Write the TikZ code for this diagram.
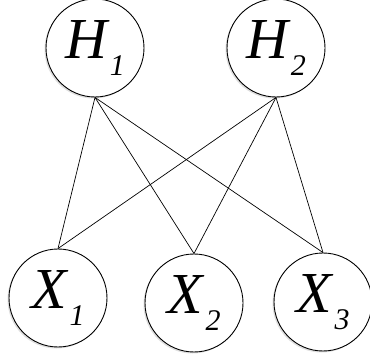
\documentclass[tikz,border=0pt]{standalone}
\usepackage{fontspec}
\setmainfont{Liberation Serif}
\usetikzlibrary{shadows}
\tikzset{
    every edge/.style={draw,line width=0.7pt}
}
\newcommand{\varlbl}[2]{\itshape #1\kern0.05em\raisebox{-0.3em}{\fontsize{30}{32}\selectfont #2}}

\begin{document}
\begin{tikzpicture}[x=1pt,y=1pt,
                    var/.style={circle,draw,line width=0.9pt,fill=white,
                                minimum size=98pt,inner sep=0pt,
                                font=\fontsize{58}{60}\selectfont,
                                drop shadow={shadow xshift=-1.5pt,shadow yshift=-1.5pt,opacity=0.25}}]
\useasboundingbox (0,0) rectangle (370,362);

% Hidden variables
\node[var] (H1) at (95,314) {\varlbl{H}{1}};
\node[var] (H2) at (276,314) {\varlbl{H}{2}};

% Observed variables
\node[var] (X1) at (58,64) {\varlbl{X}{1}};
\node[var] (X2) at (194,59) {\varlbl{X}{2}};
\node[var] (X3) at (323,60) {\varlbl{X}{3}};

% Links
\path (H1.south) edge (X1.north);
\path (H1.south) edge (X2.north);
\path (H1.south) edge (X3.north);
\path (H2.south) edge (X1.north);
\path (H2.south) edge (X2.north);
\path (H2.south) edge (X3.north);

\end{tikzpicture}
\end{document}
